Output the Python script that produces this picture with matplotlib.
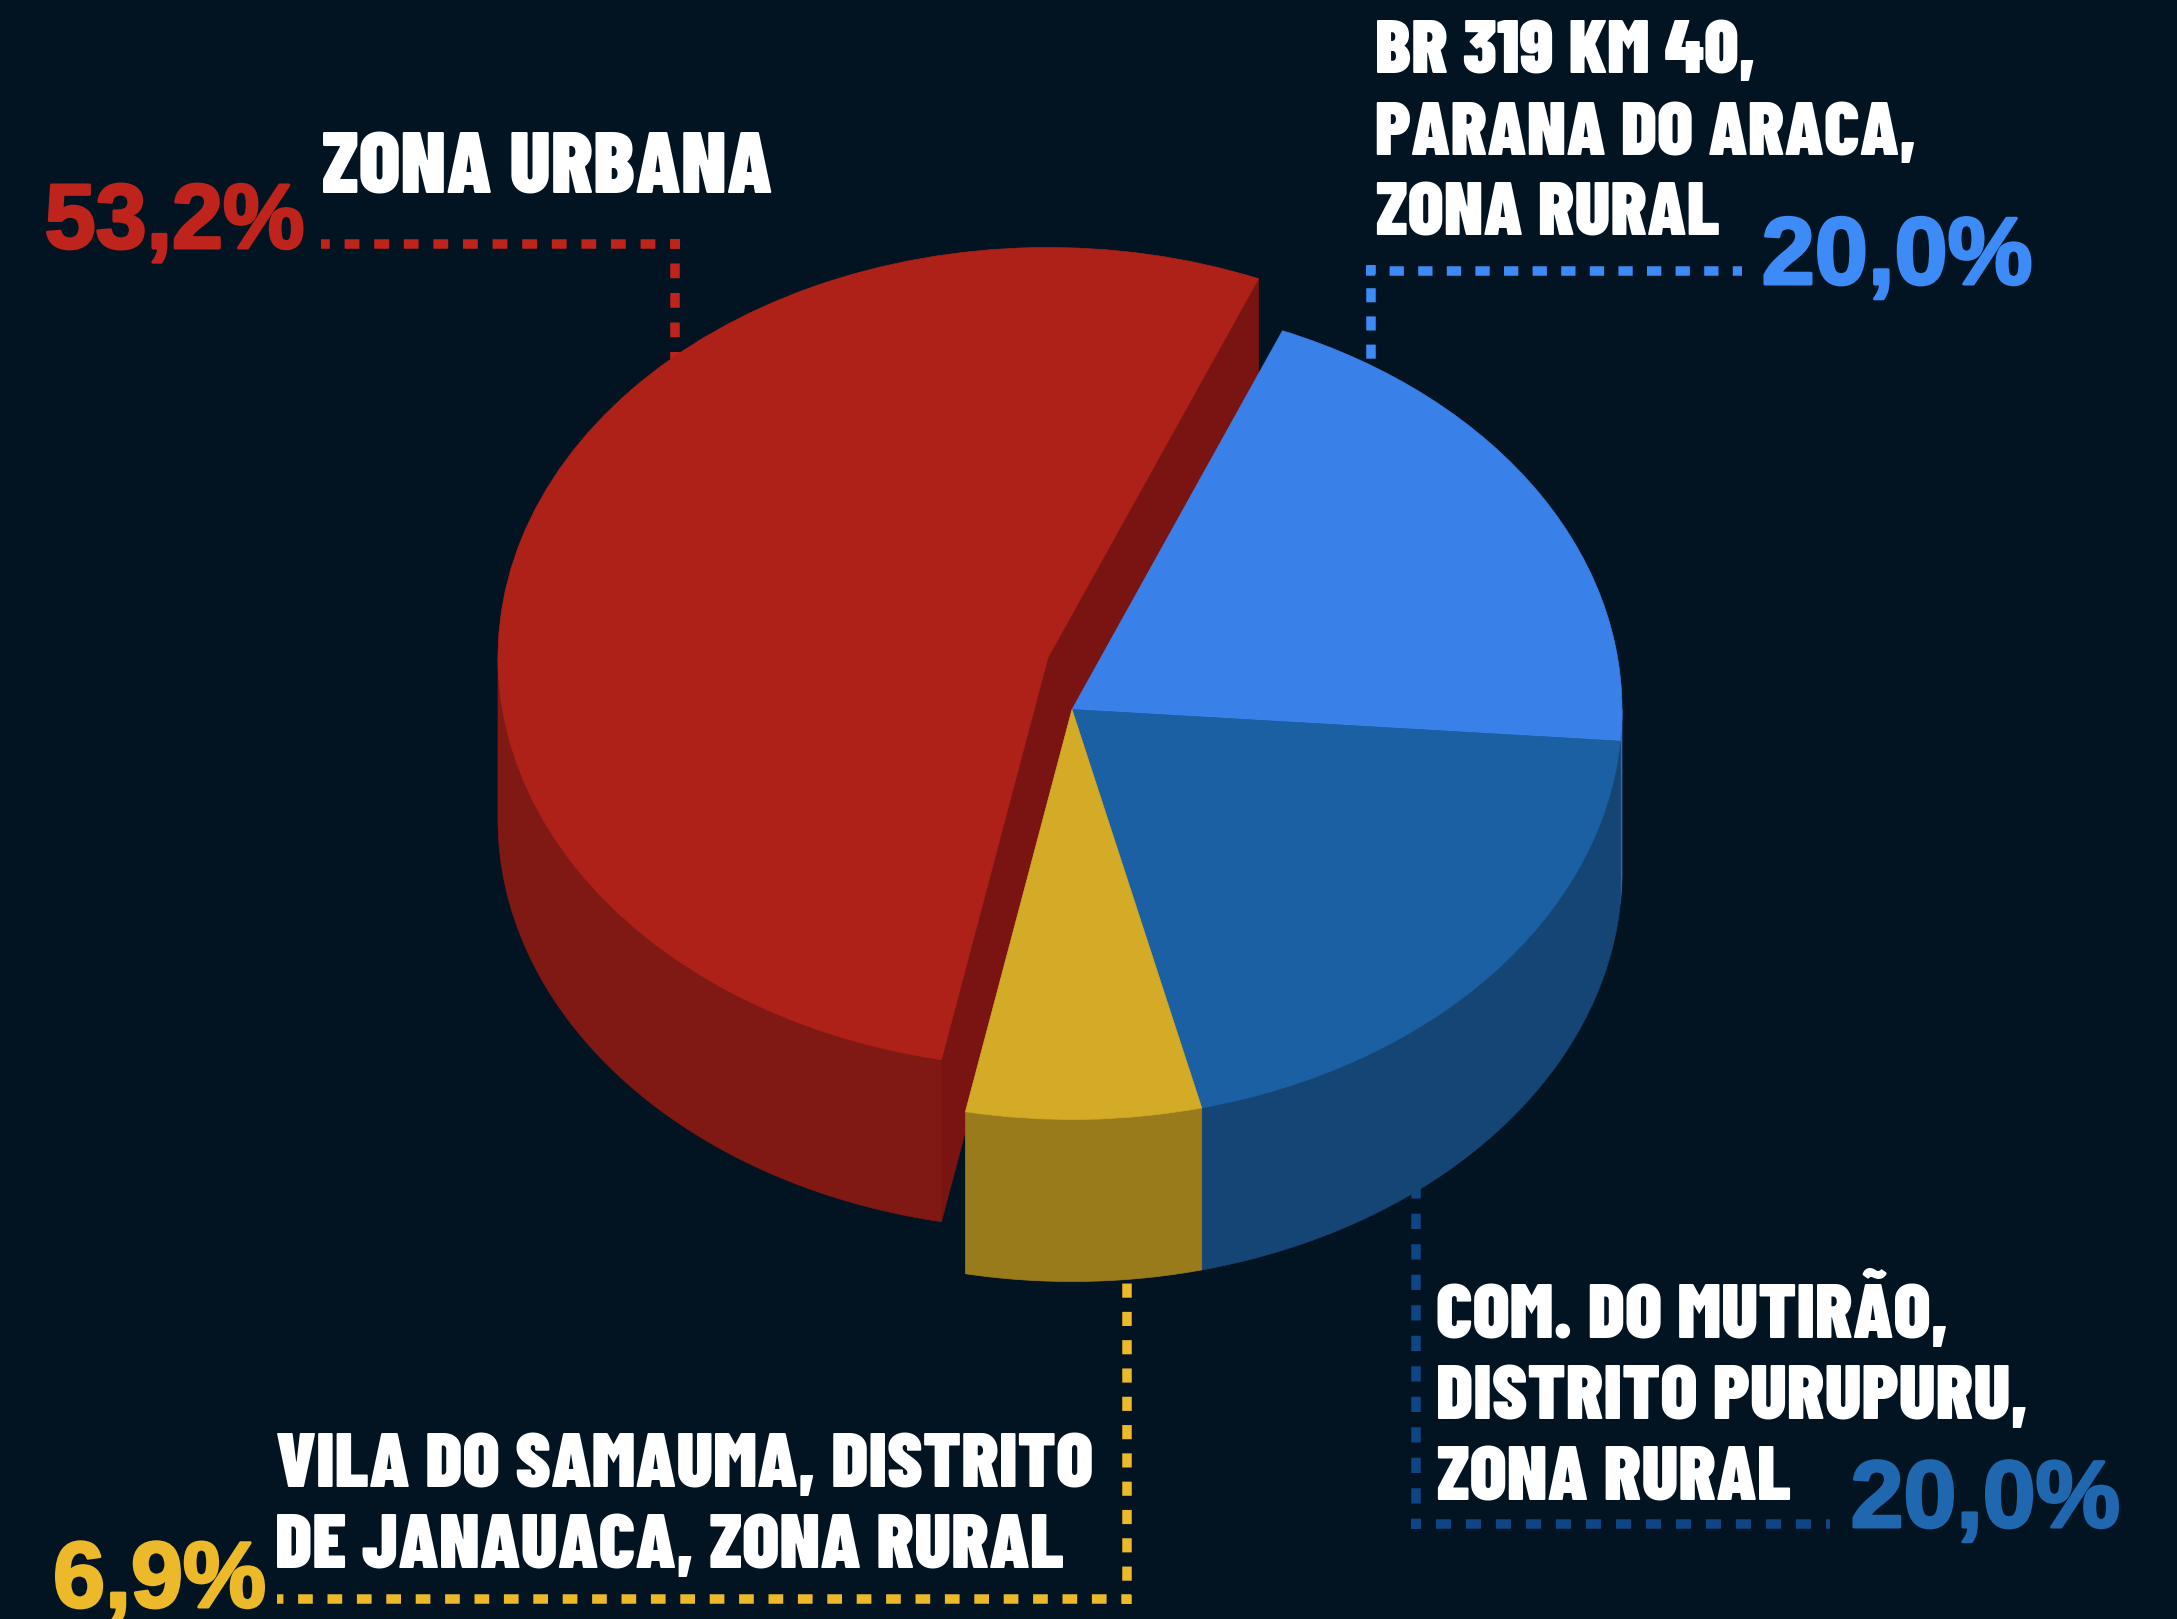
import numpy as np
import matplotlib
matplotlib.use('Agg')
import matplotlib.pyplot as plt
from matplotlib.font_manager import FontProperties
from matplotlib.patches import Wedge, Polygon
from matplotlib.textpath import TextPath
from matplotlib.transforms import Affine2D
import matplotlib.patheffects as pe

plt.rcParams['lines.scale_dashes'] = False

# ---- data ----
categories = ['BR 319 KM 40,\nPARANA DO ARACA,\nZONA RURAL',
              'COM. DO MUTIRÃO,\nDISTRITO PURUPURU,\nZONA RURAL',
              'VILA DO SAMAUMA, DISTRITO\nDE JANAUACA, ZONA RURAL',
              'ZONA URBANA']
values = [20.0, 20.0, 6.9, 53.2]
value_labels = ['20,0%', '20,0%', '6,9%', '53,2%']

top_colors = ['#3A80E9', '#1B60A3', '#D4AB27', '#AE2119']
side_colors = ['#3569BE', '#144575', '#9A7B1C', '#801813']
text_colors = ['#3D8BF7', '#1F68B0', '#EBB92A', '#BE241C']
leader_colors = ['#3D8BF7', '#0E4585', '#EBB92A', '#BE241C']
BG = '#021421'

fig = plt.figure(figsize=(21.77, 16.19), dpi=100, facecolor=BG)
ax = fig.add_axes([0, 0, 1, 1])
ax.set_xlim(0, 2177)
ax.set_ylim(1619, 0)
ax.axis('off')

# ---- pie geometry (pixels) ----
CX, CY = 1072.0, 709.5
RX, RY = 550.0, 410.0
DEPTH = 162.0
START = 67.5
EXPLODE = [(0, 0), (0, 0), (0, 0), (-24, -52)]
WALL_RED = '#7A1412'


def rim(t, cx, cy, dy=0.0):
    t = np.radians(t)
    return cx + RX * np.cos(t), cy - RY * np.sin(t) + dy


def side_wall(t0, t1, cx, cy, color, z):
    t = np.linspace(t0, t1, 200)
    xa, ya = rim(t, cx, cy)
    xb, yb = rim(t[::-1], cx, cy, DEPTH)
    ax.add_patch(Polygon(np.c_[np.r_[xa, xb], np.r_[ya, yb]], closed=True,
                         facecolor=color, edgecolor=color, lw=0.5, zorder=z))


def radial_wall(t, cx, cy, color, z):
    x, y = rim(t, cx, cy)
    pts = [(cx, cy), (x, y), (x, y + DEPTH), (cx, cy + DEPTH)]
    ax.add_patch(Polygon(pts, closed=True, facecolor=color, edgecolor=color,
                         lw=0.5, zorder=z))


def top_face(t0, t1, cx, cy, color, z):
    tr = Affine2D().scale(RX, -RY).translate(cx, cy) + ax.transData
    ax.add_patch(Wedge((0, 0), 1, t0, t1, transform=tr, facecolor=color,
                       edgecolor=color, lw=0.5, zorder=z))


unit = 360.0 / sum(values)
a = START
spans = []
for v in values:
    spans.append((a - v * unit, a))
    a -= v * unit

# the exploded slice goes first, the others sit on top of it
order = [3, 0, 1, 2]
z = 5
for i in order:
    t0, t1 = spans[i]
    cx, cy = CX + EXPLODE[i][0], CY + EXPLODE[i][1]
    if i == 3:
        radial_wall(t1, cx, cy, WALL_RED, z)
        radial_wall(t0, cx, cy, WALL_RED, z)
    lo, hi = max(t0, -180), min(t1, 0)
    if lo < hi:
        side_wall(lo, hi, cx, cy, side_colors[i], z + 1)
    z += 2
for i in order:
    t0, t1 = spans[i]
    cx, cy = CX + EXPLODE[i][0], CY + EXPLODE[i][1]
    top_face(t0, t1, cx, cy, top_colors[i], z if i != 3 else 7)
    z += 1


# ---- dotted leaders ----
def leader(xy_corner, x_end, y_end, color, px, py, outer_x, outer_y):
    xc, yc = xy_corner
    lw = 9.5 * 0.72
    for xs, ys, per in (((outer_x, x_end), (yc, yc), px), ((xc, xc), (outer_y, y_end), py)):
        ax.plot(xs, ys, color=color, lw=lw, zorder=2, dash_capstyle='butt',
                linestyle=(5 * 0.72, (per / 2 * 0.72, per / 2 * 0.72)),
                scalex=False, scaley=False)


leader((1371, 270.7), 1742, 380, leader_colors[0], 28.6, 28.2, 1366, 265.5)
leader((1416, 1524), 1830, 1170, leader_colors[1], 30.0, 30.5, 1411, 1529)
leader((1127, 1599), 277, 1270, leader_colors[2], 29.4, 28.3, 1131, 1604)
leader((675, 244), 321, 380, leader_colors[3], 29.6, 29.5, 680, 239.5)


# ---- text ----
def measure(s, fp):
    bb = TextPath((0, 0), s, size=100, prop=fp).get_extents()
    return bb.x0 / 100, bb.width / 100


def put(s, x, y, size_px, fp, color, stroke=0.0):
    x0, _ = measure(s, fp)
    t = ax.text(x - x0 * size_px, y, s, fontproperties=fp, fontsize=size_px * 0.72,
                color=color, ha='left', va='baseline', zorder=30)
    if stroke:
        t.set_path_effects([pe.withStroke(linewidth=stroke * 0.72, foreground=color)])


label_fp = FontProperties(family='Barlow Condensed', weight=900)
pct_fp = FontProperties(family='Liberation Sans', weight='bold')

label_boxes = [
    (1376.5, [73, 155, 236], 538),
    (1438, [1338, 1419, 1500], 588),
    (277, [1487, 1568], 815),
    (323, [193], 448),
]
pct_boxes = [(1765, 284, 265), (1854, 1527, 263.5), (56.5, 1607, 207), (47.5, 248, 254.5)]

for cat, (x, bases, w), val, (px, py, pw), col in zip(categories, label_boxes, value_labels,
                                                     pct_boxes, text_colors):
    lines = cat.split('\n')
    longest = max(lines, key=lambda s: measure(s, label_fp)[1])
    size = w / measure(longest, label_fp)[1]
    for line, b in zip(lines, bases):
        put(line, x, b, size, label_fp, 'white')
    psize = pw / measure(val, pct_fp)[1]
    put(val, px, py, psize, pct_fp, col, stroke=3.0)

fig.savefig('out.png', facecolor=BG)
